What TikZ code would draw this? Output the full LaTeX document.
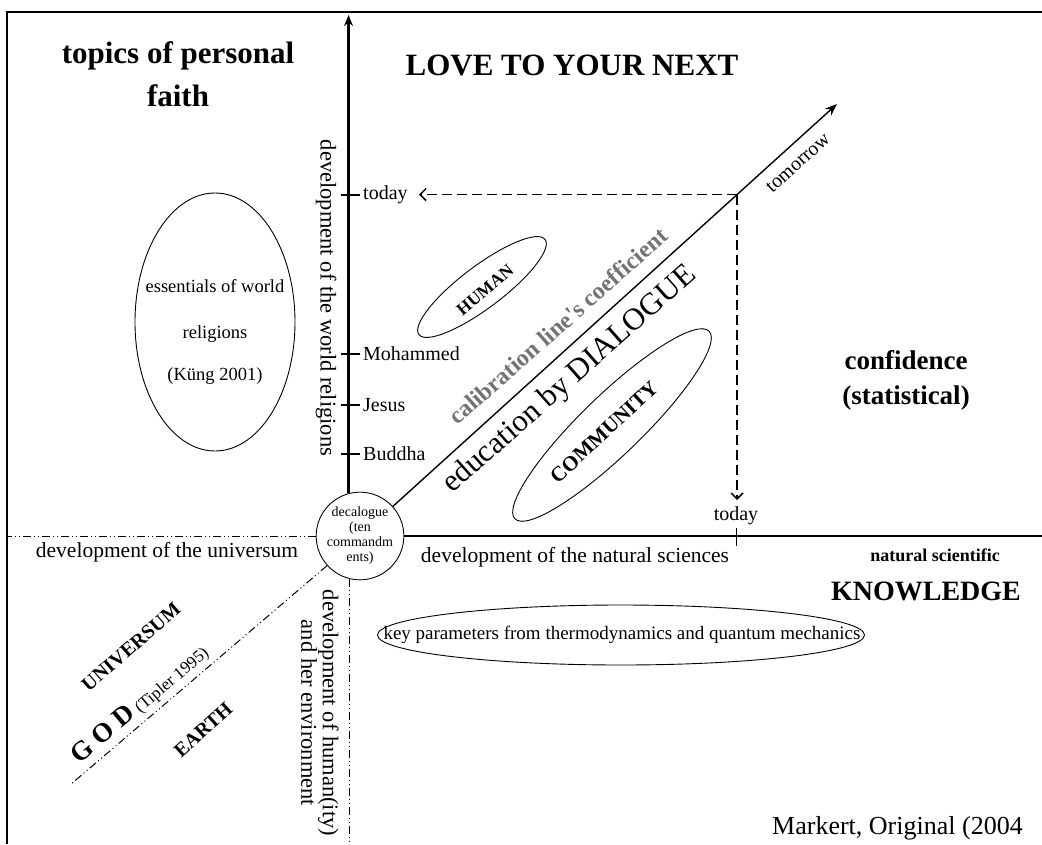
\documentclass[tikz,border=0pt]{standalone}
\usepackage{fontspec}
\setmainfont{Liberation Serif}[Ligatures=TeXOff]
\usetikzlibrary{arrows.meta,shapes.geometric,calc}
\newcommand\myfs[2]{\fontsize{#1}{#2}\selectfont}
\begin{document}
\begin{tikzpicture}[x=1pt,y=-1pt,
  axis/.style={line width=2.2pt},
  dd/.style={line width=1pt, dash pattern=on 8pt off 3pt on 1pt off 3pt on 1pt off 3pt},
  dsh/.style={line width=1.6pt, dash pattern=on 10pt off 5pt},
  ell/.style={draw, ellipse, line width=0.9pt, inner sep=0pt},
  lab/.style={inner sep=0pt},
  tick/.style={line width=1.8pt},
  barb/.style={-{Straight Barb[length=6pt,width=12pt,line width=1.5pt]}},
]
\useasboundingbox (0,0) rectangle (1042,844);
\fill[white] (0,0) rectangle (1042,844);
% frame
\draw[line width=1.8pt] (7,844) -- (7,12) -- (1042,12);

% decalogue circle
\node[draw, circle, line width=0.9pt, minimum size=77pt, inner sep=0pt, align=center,
      font=\myfs{14}{15}] (dec) at (360,536) {decalogue\\(ten\\commandm\\ents)};

% axes
\coordinate (vtop) at (350,15);
\draw[axis,-{Stealth[length=11pt,width=9pt]}] (dec.105) -- (dec.105 |- vtop);
\coordinate (hend) at (1042,535);
\draw[axis] (dec.east) -- (dec.east -| hend);

% diagonal calibration line
\coordinate (dtip) at (837,104);
\draw[line width=1.4pt,-{Stealth[length=12pt,width=9pt]}] (dec.42) -- (dtip);
\coordinate (T) at ($(dec.42)!0.775!(dtip)$);
\coordinate (tl) at (419,195);
\coordinate (tb) at (736,500);
\draw[dsh,barb] (T) -- (T -| tl);
\draw[dsh,barb] (T) -- (T |- tb);

% dash-dot lines
\coordinate (hl) at (7,535);
\draw[dd] (dec.west) -- (dec.west -| hl);
\coordinate (vb) at (351,844);
\draw[dd] (dec.256) -- (dec.256 |- vb);
\coordinate (gl) at (70,785);
\draw[dd] (dec.222) -- (gl);

% ticks on vertical axis
\foreach \yy/\nm/\tx in {195/tday/today, 354/moh/Mohammed, 405/jes/Jesus, 454/bud/Buddha}{
  \draw[tick] (341,\yy) -- (360,\yy);
  \node[lab, anchor=west, font=\myfs{20}{24}] (\nm) at (363,\yy) {\tx};
}
% tick on horizontal axis
\draw[line width=1pt] (736,528) -- (736,546);
\node[lab, font=\myfs{20}{24}] (tday2) at (736,516) {today};

% titles
\node[lab, align=center, font=\myfs{31}{43}\bfseries] (faith) at (178,74) {topics of personal\\faith};
\node[lab, font=\myfs{31}{36}\bfseries] (love) at (572,65) {LOVE TO YOUR NEXT};
\node[lab, align=center, font=\myfs{27}{35}\bfseries] (conf) at (906,380) {confidence\\(statistical)};
\node[lab, font=\myfs{18}{22}\bfseries] (nats) at (935,555) {natural scientific};
\node[lab, font=\myfs{28}{32}\bfseries] (know) at (926,591) {KNOWLEDGE};

% axis labels
\node[lab, rotate=-90, font=\myfs{22.5}{26}] (wrel) at (326,298) {development of the world religions};
\node[lab, font=\myfs{21.5}{26}] (univ) at (167,552) {development of the universum};
\node[lab, font=\myfs{21.5}{26}] (nsci) at (575,557) {development of the natural sciences};
\node[lab, rotate=-90, align=center, font=\myfs{22.5}{17}] (hum) at (320,713) {development of human(ity)\\and her environment};

% ellipses
\node[ell, minimum width=160pt, minimum height=258pt] (essE) at (215,322) {};
\node[lab, align=center, font=\myfs{18.5}{46}] (ess) at (215,332) {essentials of world\\religions\\[-4pt](Küng 2001)};
\node[ell, minimum width=158pt, minimum height=42pt, rotate=37] (humE) at (482,287) {};
\node[lab, rotate=40, font=\myfs{17.5}{20}\bfseries] (human) at (485,290) {HUMAN};
\node[ell, minimum width=270pt, minimum height=60pt, rotate=44] (comE) at (612,425) {};
\node[lab, rotate=43, font=\myfs{21}{24}\bfseries] (com) at (604,432) {COMMUNITY};
\node[ell, minimum width=487pt, minimum height=60pt] (keyE) at (621,635) {};
\node[lab, font=\myfs{19}{22}] (key) at (622,635) {key parameters from thermodynamics and quantum mechanics};

% diagonal texts
\node[lab, rotate=41.5, text=black!55, font=\myfs{24}{28}\bfseries] (calib) at (558,326) {calibration line's coefficient};
\node[lab, rotate=41.5, font=\myfs{31}{36}] (edu) at (570,380) {education by DIALOGUE};
\node[lab, rotate=42, font=\myfs{20}{24}] (tom) at (798,163) {tomorrow};

% lower-left quadrant
\node[lab, rotate=41, font=\myfs{20}{24}\bfseries] (uni) at (131,647) {UNIVERSUM};
\node[lab, rotate=40, font=\myfs{27}{30}] (god) at (140,704) {\textbf{G O D}\,{\myfs{17}{20}(Tipler 1995)}};
\node[lab, rotate=42, font=\myfs{20}{24}\bfseries] (earth) at (203,730) {EARTH};

% source
\node[lab, anchor=west, font=\myfs{26}{30}] (src) at (772,828) {Markert, Original (2004};
\end{tikzpicture}
\end{document}
